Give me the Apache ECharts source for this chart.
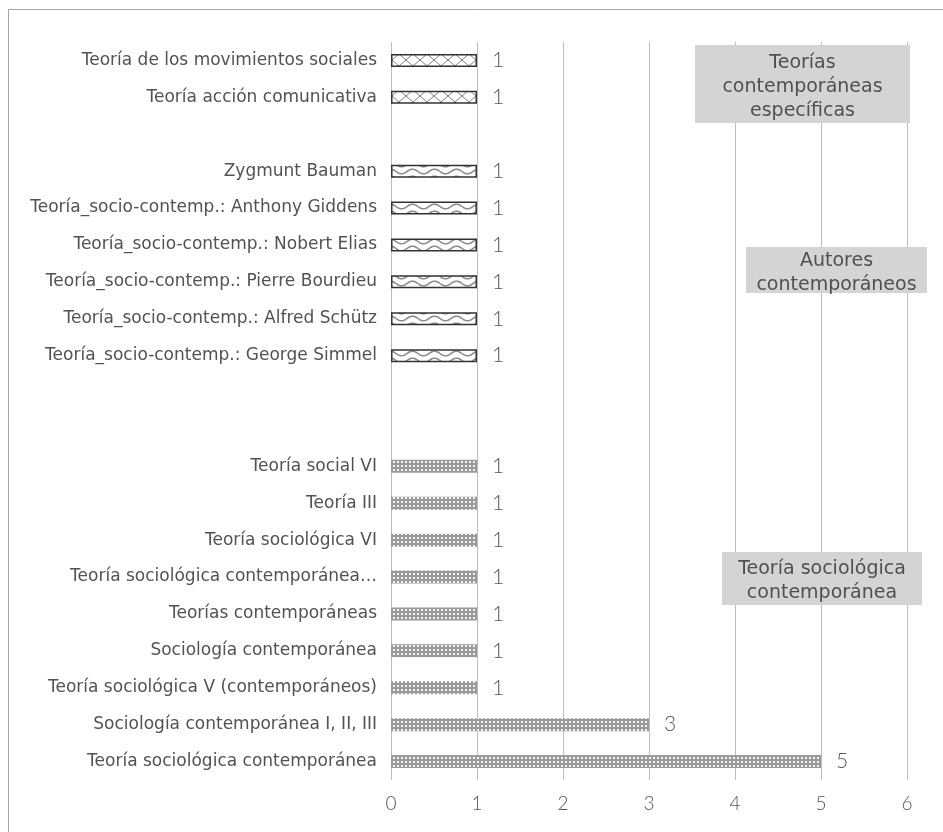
<!DOCTYPE html>
<html>
<head>
<meta charset="utf-8">
<script src="https://cdn.jsdelivr.net/npm/echarts@6/dist/echarts.min.js"></script>
<style>
html,body{margin:0;padding:0;background:#fff;}
#chart{width:943px;height:832px;}
</style>
</head>
<body>
<div id="chart"></div>
<script>
// Categories, bottom to top
var categories = [
  'Teoría sociológica contemporánea',
  'Sociología contemporánea I, II, III',
  'Teoría sociológica V (contemporáneos)',
  'Sociología contemporánea',
  'Teorías contemporáneas',
  'Teoría sociológica contemporánea…',
  'Teoría sociológica VI',
  'Teoría III',
  'Teoría social VI',
  ' ',
  '  ',
  'Teoría_socio-contemp.: George Simmel',
  'Teoría_socio-contemp.: Alfred Schütz',
  'Teoría_socio-contemp.: Pierre Bourdieu',
  'Teoría_socio-contemp.: Nobert Elias',
  'Teoría_socio-contemp.: Anthony Giddens',
  'Zygmunt Bauman',
  '   ',
  'Teoría acción comunicativa',
  'Teoría de los movimientos sociales'
];
// Group: Teoría sociológica contemporánea (first 9 categories)
var sociologicaVals = [5, 3, 1, 1, 1, 1, 1, 1, 1];
// Group: Autores contemporáneos (categories 12-17)
var autoresVals = [1, 1, 1, 1, 1, 1];
// Group: Teorías contemporáneas específicas (categories 19-20)
var especificasVals = [1, 1];
var xTicks = [0, 1, 2, 3, 4, 5, 6];
var groupTitles = ['Teorías\ncontemporáneas\nespecíficas', 'Autores\ncontemporáneos', 'Teoría sociológica\ncontemporánea'];

function place(vals, start) {
  var arr = categories.map(function(){ return '-'; });
  vals.forEach(function(v, i){ arr[start + i] = v; });
  return arr;
}
var dSoc = place(sociologicaVals, 0);
var dAut = place(autoresVals, 11);
var dEsp = place(especificasVals, 18);

function makeCanvas(w, h) { var c = document.createElement('canvas'); c.width = w; c.height = h; return c; }
// cross-hatch
var crossC = makeCanvas(14, 12);
(function(){ var g = crossC.getContext('2d'); g.fillStyle='#fff'; g.fillRect(0,0,14,12);
  g.strokeStyle='#808080'; g.lineWidth=1; g.beginPath(); g.moveTo(0,0); g.lineTo(14,12); g.moveTo(14,0); g.lineTo(0,12); g.stroke(); })();
// wave
var waveC = makeCanvas(22, 7);
(function(){ var g = waveC.getContext('2d'); g.fillStyle='#fff'; g.fillRect(0,0,22,7);
  g.strokeStyle='#8c8c8c'; g.lineWidth=1.6; g.beginPath();
  for (var x=0; x<=22; x+=0.5){ var y=3.5+2.3*Math.sin(2*Math.PI*x/22); if(x===0) g.moveTo(x,y); else g.lineTo(x,y);} g.stroke(); })();
// dotted grid
var gridC = makeCanvas(4, 4);
(function(){ var g = gridC.getContext('2d'); g.fillStyle='#9a9a9a'; g.fillRect(0,0,4,4);
  g.fillStyle='#f2f2f2'; g.fillRect(1,1,2,2); })();

var labelStyle = { show: true, position: 'right', distance: 15, fontFamily: 'Lato', fontWeight: 300, fontSize: 21, color: '#555',
  formatter: function(p){ return p.value; } };

var chart = echarts.init(document.getElementById('chart'), null, { renderer: 'canvas' });
var boxFont = { fontFamily: 'DejaVu Sans', fontWeight: 'normal', fontSize: 19, fill: '#505050', lineHeight: 24, align: 'center', verticalAlign: 'middle' };
function box(x, y, w, h, text) {
  return { type: 'group', z: 100, children: [
    { type: 'rect', z: 100, shape: { x: x, y: y, width: w, height: h }, style: { fill: '#d4d4d4' } },
    { type: 'text', z: 101, x: x + w / 2, y: y + h / 2 + 3, style: Object.assign({ text: text }, boxFont) }
  ] };
}
chart.setOption({
  animation: false,
  backgroundColor: '#fff',
  grid: { left: 391, right: 36, top: 42, bottom: 52, containLabel: false },
  xAxis: {
    type: 'value', min: 0, max: 6, interval: 1,
    axisLine: { show: false }, axisTick: { show: false },
    splitLine: { show: true, lineStyle: { color: '#bdbdbd', width: 1 } },
    axisLabel: { margin: 14, fontFamily: 'Lato', fontWeight: 300, fontSize: 19, color: '#555',
      formatter: function(v){ return xTicks.indexOf(v) >= 0 ? String(v) : ''; } }
  },
  yAxis: {
    type: 'category', data: categories,
    axisLine: { show: false }, axisTick: { show: false }, splitLine: { show: false },
    axisLabel: { margin: 14, fontFamily: 'DejaVu Sans', fontSize: 17, color: '#525252', interval: 0 }
  },
  series: [
    { type: 'bar', name: 'soc', data: dSoc, barWidth: 13, barGap: '-100%',
      itemStyle: { color: { image: gridC, repeat: 'repeat' } }, label: labelStyle },
    { type: 'bar', name: 'aut', data: dAut, barWidth: 13, barGap: '-100%',
      itemStyle: { color: { image: waveC, repeat: 'repeat' }, borderColor: '#333', borderWidth: 1.5 }, label: labelStyle },
    { type: 'bar', name: 'esp', data: dEsp, barWidth: 13, barGap: '-100%',
      itemStyle: { color: { image: crossC, repeat: 'repeat' }, borderColor: '#333', borderWidth: 1.5 }, label: labelStyle }
  ],
  graphic: [
    { type: 'rect', shape: { x: 8.5, y: 9.5, width: 1200, height: 1200 }, style: { fill: 'none', stroke: '#a6a6a6', lineWidth: 1 }, silent: true, z: 0 },
    box(695, 45, 215, 78, groupTitles[0]),
    box(746, 247, 181, 46, groupTitles[1]),
    box(722, 552, 200, 53, groupTitles[2])
  ]
});
</script>
</body>
</html>
